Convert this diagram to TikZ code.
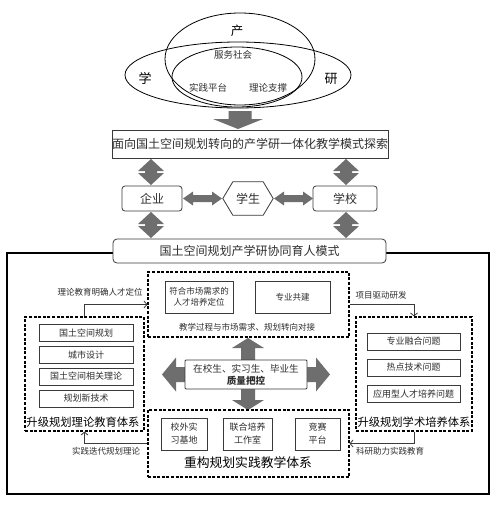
\documentclass[tikz,border=0pt]{standalone}
\usepackage{fontspec}
\setmainfont{Noto Sans CJK SC}
\usetikzlibrary{arrows.meta}
\definecolor{ln}{HTML}{3A3A3A}
\definecolor{ar}{HTML}{6E6E6E}
\definecolor{tx}{HTML}{2E2E2E}
\newcommand\fsz[1]{\fontsize{#1pt}{\dimexpr #1pt*6/5\relax}\selectfont}
\newcommand\fszb[2]{\fontsize{#1pt}{#2pt}\selectfont}
% vertical double block arrow: x, ytop, ybot
\newcommand\VDArrow[3]{\fill[ar] (#1,#2) -- (#1+13,#2+12) -- (#1+6,#2+12) -- (#1+6,#3-12) -- (#1+13,#3-12) -- (#1,#3) -- (#1-13,#3-12) -- (#1-6,#3-12) -- (#1-6,#2+12) -- (#1-13,#2+12) -- cycle;}
% horizontal double block arrow: y, xleft, xright
\newcommand\HDArrow[3]{\fill[ar] (#2,#1) -- (#2+10,#1-7) -- (#2+10,#1-3.5) -- (#3-10,#1-3.5) -- (#3-10,#1-7) -- (#3,#1) -- (#3-10,#1+7) -- (#3-10,#1+3.5) -- (#2+10,#1+3.5) -- (#2+10,#1+7) -- cycle;}
\begin{document}
\begin{tikzpicture}[x=1pt,y=-1pt,
  box/.style={draw=ln, line width=0.8pt, fill=white, inner sep=0pt, text=tx, align=center},
  dbox/.style={draw=black, line width=1.1pt, dash pattern=on 3pt off 1.6pt, inner sep=0pt},
  ell/.style={draw=black, line width=0.8pt},
  conn/.style={draw=ln, line width=0.8pt, -{Straight Barb[length=3pt,width=7pt]}},
  lbl/.style={text=tx, font=\fsz{8.5}, inner sep=0pt},
  itm/.style={box, font=\fsz{9}},
  ttl/.style={text=black, inner sep=0pt}]
\useasboundingbox (0,0) rectangle (500,514);
\fill[white] (0,0) rectangle (500,514);

% ellipses
\draw[ell] (238,75) ellipse [x radius=113, y radius=33];
\draw[ell] (240,59) ellipse [x radius=75, y radius=46];
\draw[ell] (237,77) ellipse [x radius=65, y radius=30];
\node[ttl, font=\fsz{12.5}] (chan) at (237,31) {产};
\node[ttl, font=\fsz{13}] (xue) at (145,78) {学};
\node[ttl, font=\fsz{13}] (yan) at (331,79) {研};
\node[lbl, font=\fsz{9.5}] (fwsh) at (233,55) {服务社会};
\node[lbl, font=\fsz{9.5}] (sjpt) at (208,88) {实践平台};
\node[lbl, font=\fsz{9.5}] (llzc) at (268,88) {理论支撑};

% arrow down to exploration box
\fill[ar] (228.5,111) -- (251.5,111) -- (251.5,119) -- (263,119) -- (238,129) -- (213,119) -- (228.5,119) -- cycle;

\node[box, minimum width=274pt, minimum height=28pt, font=\fsz{12}] (explore) at (250,144) {面向国土空间规划转向的产学研一体化教学模式探索};

\node[box, rounded corners=3pt, minimum width=60pt, minimum height=25pt, font=\fsz{12}] (qy) at (152,198.5) {企业};
\node[inner sep=0pt, minimum width=50pt, minimum height=33pt, text=tx, font=\fsz{12}] (stu) at (248,198.5) {学生};
\draw[draw=ln, line width=0.8pt] (stu.west) -- ([xshift=10pt]stu.north west) -- ([xshift=-10pt]stu.north east) -- (stu.east) -- ([xshift=-10pt]stu.south east) -- ([xshift=10pt]stu.south west) -- cycle;
\node[box, rounded corners=3pt, minimum width=64pt, minimum height=25pt, font=\fsz{12}] (xx) at (345,198.5) {学校};

\VDArrow{151}{159}{185}
\VDArrow{346}{159}{185}
\VDArrow{151}{212}{238}
\VDArrow{346}{212}{238}
\HDArrow{198.5}{183}{222}
\HDArrow{198.5}{274}{313}

% outer frame
\draw[black, line width=2.5pt] (7,253) rectangle (489,494);

\node[box, rounded corners=4pt, minimum width=273pt, minimum height=24pt, font=\fsz{12}] (mode) at (249.5,251) {国土空间规划产学研协同育人模式};

% top dashed group
\node[dbox, minimum width=201pt, minimum height=65pt] (topd) at (248.5,304.5) {};
\node[itm, font=\fszb{8.5}{11.5}, minimum width=68pt, minimum height=32pt] (fh) at (199,297) {符合市场需求的\\人才培养定位};
\node[itm, font=\fsz{8.5}, minimum width=75pt, minimum height=32pt] (zygj) at (292.5,297) {专业共建};
\node[lbl] (jxgc) at (247,327) {教学过程与市场需求、规划转向对接};

% center block arrows
\fill[ar] (241,360) -- (241,348) -- (232,348) -- (248,338) -- (264,348) -- (255,348) -- (255,360) -- cycle;
\fill[ar] (241,389) -- (241,400) -- (232,400) -- (248,410) -- (264,400) -- (255,400) -- (255,389) -- cycle;
\fill[ar] (186,367) -- (176,367) -- (176,357.5) -- (162,374.5) -- (176,391.5) -- (176,382) -- (186,382) -- cycle;
\fill[ar] (306,367) -- (316,367) -- (316,357.5) -- (330,374.5) -- (316,391.5) -- (316,382) -- (306,382) -- cycle;
\node[box, rounded corners=1pt, minimum width=122pt, minimum height=29pt, font=\fszb{9.6}{12}] (qc) at (246,374.5) {在校生、实习生、毕业生\\\textbf{质量把控}};

% left dashed group
\node[dbox, minimum width=119pt, minimum height=114pt] (leftd) at (84.5,374) {};
\node[itm, minimum width=94pt, minimum height=17pt] (l1) at (86,333) {国土空间规划};
\node[itm, minimum width=94pt, minimum height=17pt] (l2) at (86,355) {城市设计};
\node[itm, minimum width=94pt, minimum height=17pt] (l3) at (86,376.5) {国土空间相关理论};
\node[itm, minimum width=94pt, minimum height=17pt] (l4) at (86,398.5) {规划新技术};
\node[ttl, font=\fsz{11.3}] (lt) at (83,422) {升级规划理论教育体系};

% right dashed group
\node[dbox, minimum width=116pt, minimum height=114pt] (rightd) at (414,374) {};
\node[itm, minimum width=93pt, minimum height=17pt] (r1) at (413.5,341.5) {专业融合问题};
\node[itm, minimum width=93pt, minimum height=17pt] (r2) at (413.5,367.5) {热点技术问题};
\node[itm, minimum width=93pt, minimum height=17pt] (r3) at (413.5,394) {应用型人才培养问题};
\node[ttl, font=\fsz{11.3}] (rt) at (414,422) {升级规划学术培养体系};

% bottom dashed group
\node[dbox, minimum width=201pt, minimum height=67pt] (botd) at (248.5,443.5) {};
\node[itm, font=\fszb{9}{13}, minimum width=46pt, minimum height=32pt] (b1) at (184,434) {校外实\\习基地};
\node[itm, font=\fszb{9}{13}, minimum width=49pt, minimum height=32pt] (b2) at (247.5,434) {联合培养\\工作室};
\node[itm, font=\fszb{9}{13}, minimum width=45pt, minimum height=32pt] (b3) at (317.5,434) {竞赛\\平台};
\node[ttl, font=\fsz{12.8}] (bt) at (248,463) {重构规划实践教学体系};

% connectors
\draw[conn] (leftd.north) |- (topd.west);
\node[lbl] (c1) at (100,292) {理论教育明确人才定位};
\draw[conn] (topd.east) -| (rightd.north);
\node[lbl] (c2) at (381,295) {项目驱动研发};
\draw[conn] (botd.west) -| (leftd.south);
\node[lbl] (c3) at (106,451) {实践迭代规划理论};
\draw[conn] (rightd.south) |- (botd.east);
\node[lbl] (c4) at (390,451) {科研助力实践教育};
\end{tikzpicture}
\end{document}
